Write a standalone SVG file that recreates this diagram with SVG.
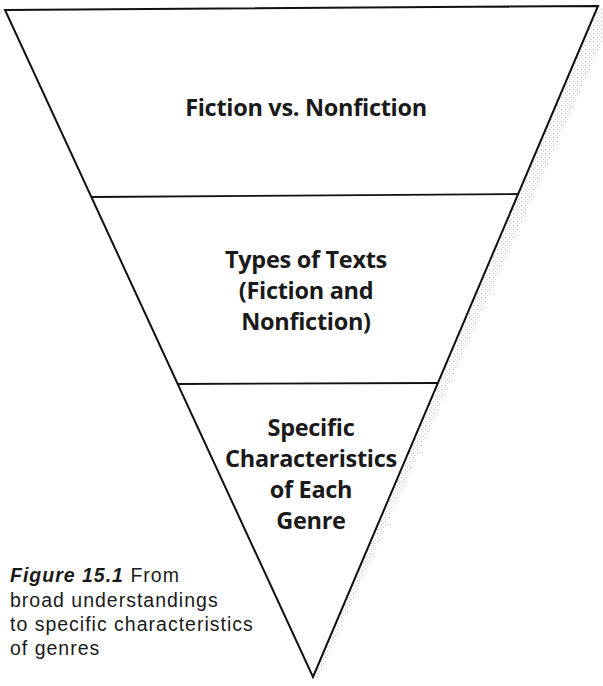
<svg xmlns="http://www.w3.org/2000/svg" width="603" height="686" viewBox="0 0 603 686">
<defs>
<style>
.edge{stroke:#111;stroke-width:2;fill:none;stroke-linecap:round}
.div{stroke:#111;stroke-width:1.8;fill:none}
.lbl{font-family:"Open Sans","DejaVu Sans",sans-serif;font-weight:bold;font-size:23.5px;fill:#1a1a1a;text-anchor:middle;letter-spacing:-0.3px}
.cap{font-family:"Liberation Sans",Arial,sans-serif;font-size:19.5px;fill:#1a1a1a;letter-spacing:1px}
</style>
<pattern id="dots" width="4" height="4" patternUnits="userSpaceOnUse">
<rect x="1" y="1" width="1" height="1" fill="#888"/>
<rect x="3" y="3" width="1" height="1" fill="#bbb"/>
</pattern>
</defs>
<rect width="603" height="686" fill="#fff"/>
<polygon points="598,6 603,10 603,40 318,679 313,677" fill="url(#dots)" opacity="0.6"/>
<g id="triangle">
<polygon class="edge" points="5,10 598,6 313,677"/>
</g>
<g id="connectors">
<line class="div" x1="92" y1="197" x2="519" y2="194"/>
<line class="div" x1="178" y1="384" x2="437" y2="383"/>
</g>
<g id="node1">
<text class="lbl" x="306" y="116">Fiction vs. Nonfiction</text>
</g>
<g id="node2">
<text class="lbl" x="306" y="268">Types of Texts</text>
<text class="lbl" x="306" y="299">(Fiction and</text>
<text class="lbl" x="306" y="330">Nonfiction)</text>
</g>
<g id="node3">
<text class="lbl" x="311" y="436">Specific</text>
<text class="lbl" x="311" y="467">Characteristics</text>
<text class="lbl" x="311" y="498">of Each</text>
<text class="lbl" x="311" y="529">Genre</text>
</g>
<g id="caption">
<text class="cap" x="10" y="582"><tspan font-weight="bold" font-style="italic">Figure 15.1</tspan>  From</text>
<text class="cap" x="10" y="607">broad understandings</text>
<text class="cap" x="10" y="631">to specific characteristics</text>
<text class="cap" x="10" y="655">of genres</text>
</g>
</svg>
